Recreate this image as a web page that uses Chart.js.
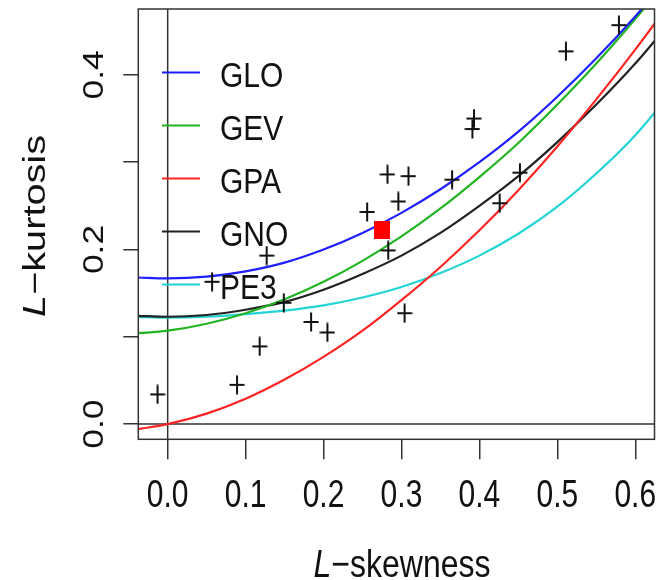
<!DOCTYPE html>
<html>
<head>
<meta charset="utf-8">
<script src="https://cdn.jsdelivr.net/npm/chart.js@4/dist/chart.umd.min.js"></script>
<style>
    html, body { margin: 0; padding: 0; background: #fff; }
    #wrap { width: 669px; height: 580px; }
</style>
</head>
<body>
<div id="wrap"><canvas id="ratioChart" width="669" height="580"></canvas></div>
<script>
// L-moment ratio diagram: theoretical curves + at-site points + regional average
const skewGrid = [-0.04, 0, 0.05, 0.1, 0.15, 0.2, 0.25, 0.3, 0.35, 0.4, 0.45, 0.5, 0.55, 0.6, 0.65];
const gloKurt = [0.168, 0.167, 0.169, 0.175, 0.185, 0.200, 0.219, 0.242, 0.269, 0.300, 0.335, 0.375, 0.419, 0.467, 0.519];
const gevKurt = [0.104, 0.107, 0.115, 0.127, 0.143, 0.163, 0.187, 0.215, 0.247, 0.283, 0.322, 0.366, 0.413, 0.464, 0.518];
const gpaKurt = [-0.006, 0.000, 0.012, 0.029, 0.051, 0.077, 0.107, 0.142, 0.180, 0.222, 0.268, 0.318, 0.372, 0.429, 0.489];
const gnoKurt = [0.124, 0.123, 0.125, 0.131, 0.140, 0.154, 0.172, 0.193, 0.219, 0.250, 0.284, 0.323, 0.366, 0.413, 0.466];
const pe3Kurt = [0.123, 0.122, 0.123, 0.126, 0.130, 0.136, 0.145, 0.157, 0.173, 0.193, 0.218, 0.249, 0.287, 0.331, 0.384];

const siteSkew = [-0.013, 0.089, 0.118, 0.149, 0.184, 0.205, 0.304, 0.057, 0.127, 0.256, 0.282, 0.309, 0.296, 0.283, 0.365, 0.391, 0.393, 0.452, 0.426, 0.511, 0.579];
const siteKurt = [0.034, 0.045, 0.089, 0.139, 0.117, 0.105, 0.127, 0.163, 0.193, 0.243, 0.286, 0.284, 0.255, 0.199, 0.280, 0.338, 0.350, 0.288, 0.253, 0.427, 0.457];

const regionalSkew = [0.275];
const regionalKurt = [0.222];

const curveNames = ["GLO", "GEV", "GPA", "GNO", "PE3"];
const curveColors = ["#1f1fff", "#22b422", "#ff2424", "#222222", "#22d4d4"];
const curveKurts = [gloKurt, gevKurt, gpaKurt, gnoKurt, pe3Kurt];

const xTickValues = [0, 0.1, 0.2, 0.3, 0.4, 0.5, 0.6];
const xTickLabels = ["0.0", "0.1", "0.2", "0.3", "0.4", "0.5", "0.6"];
const yTickValues = [0, 0.1, 0.2, 0.3, 0.4];
const yLabelValues = [0, 0.2, 0.4];
const yTickLabels = ["0.0", "0.2", "0.4"];

const FONT = "'Liberation Sans', Arial, sans-serif";
const INK = "#111111";
const AXIS = "#333333";

function pairs(xs, ys) {
    return xs.map((x, i) => ({ x, y: ys[i] }));
}

function crossImage() {
    const c = document.createElement("canvas");
    c.width = 16;
    c.height = 20;
    const ctx = c.getContext("2d");
    ctx.strokeStyle = "#111111";
    ctx.lineWidth = 2;
    ctx.beginPath();
    ctx.moveTo(0.5, 10);
    ctx.lineTo(15.5, 10);
    ctx.moveTo(8, 0.5);
    ctx.lineTo(8, 19.5);
    ctx.stroke();
    return c;
}

function squareImage() {
    const c = document.createElement("canvas");
    c.width = 16;
    c.height = 18;
    const ctx = c.getContext("2d");
    ctx.fillStyle = "#ff0000";
    ctx.fillRect(0, 0, 16, 18);
    return c;
}

// text stretched vertically, like the reference picture
function drawStretched(ctx, text, x, y, opts) {
    ctx.save();
    ctx.translate(x, y);
    if (opts.rotate) {
        ctx.rotate(-Math.PI / 2);
        ctx.scale(opts.stretch, 1);
    } else {
        ctx.scale(1, opts.stretch);
    }
    ctx.fillStyle = INK;
    ctx.textBaseline = "alphabetic";
    ctx.textAlign = opts.align || "center";
    ctx.font = opts.font;
    ctx.fillText(text, 0, 0);
    ctx.restore();
}

function drawTitle(ctx, cx, baseline, rest, size, stretch, rotate) {
    const italic = `italic ${size}px ${FONT}`;
    const normal = `${size}px ${FONT}`;
    ctx.save();
    ctx.translate(cx, baseline);
    if (rotate) {
        ctx.rotate(-Math.PI / 2);
        ctx.scale(stretch, 1);
    } else {
        ctx.scale(1, stretch);
    }
    ctx.font = italic;
    const wL = ctx.measureText("L").width;
    ctx.font = normal;
    const wRest = ctx.measureText(rest).width;
    const start = -(wL + wRest) / 2;
    ctx.fillStyle = INK;
    ctx.textAlign = "left";
    ctx.textBaseline = "alphabetic";
    ctx.font = italic;
    ctx.fillText("L", start, 0);
    ctx.font = normal;
    ctx.fillText(rest, start + wL, 0);
    ctx.restore();
}

const framePlugin = {
    id: "frame",
    beforeDatasetsDraw(chart) {
        const { ctx, chartArea: a, scales } = chart;
        const x0 = scales.x.getPixelForValue(0);
        const y0 = scales.y.getPixelForValue(0);
        ctx.save();
        ctx.strokeStyle = AXIS;
        ctx.lineWidth = 1.5;
        ctx.beginPath();
        ctx.moveTo(x0, a.top);
        ctx.lineTo(x0, a.bottom);
        ctx.moveTo(a.left, y0);
        ctx.lineTo(a.right, y0);
        ctx.stroke();
        ctx.restore();
    },
    afterDatasetsDraw(chart) {
        const { ctx, chartArea: a, scales } = chart;
        ctx.save();
        ctx.strokeStyle = AXIS;
        ctx.lineWidth = 1.5;
        ctx.strokeRect(a.left, a.top, a.right - a.left, a.bottom - a.top);
        ctx.restore();

        xTickValues.forEach((v, i) => {
            drawStretched(ctx, xTickLabels[i], scales.x.getPixelForValue(v), 507,
                { font: `30px ${FONT}`, stretch: 1.3 });
        });
        yLabelValues.forEach((v, i) => {
            drawStretched(ctx, yTickLabels[i], 103, scales.y.getPixelForValue(v),
                { font: `30px ${FONT}`, stretch: 1.18, rotate: true });
        });

        drawTitle(ctx, 402, 577, "\u2212skewness", 32, 1.22, false);
        drawTitle(ctx, 45, 226, "\u2212kurtosis", 31, 1.28, true);

        // legend, no box
        curveNames.forEach((name, i) => {
            const ly = 72.5 + i * 53;
            ctx.save();
            ctx.strokeStyle = curveColors[i];
            ctx.lineWidth = 2;
            ctx.beginPath();
            ctx.moveTo(162, ly);
            ctx.lineTo(200, ly);
            ctx.stroke();
            ctx.restore();
            drawStretched(ctx, name, 220, ly + 14, { font: `30px ${FONT}`, stretch: 1.17, align: "left" });
        });
    },
};

const curveSets = curveNames.map((name, i) => ({
    label: name,
    data: pairs(skewGrid, curveKurts[i]),
    showLine: true,
    borderColor: curveColors[i],
    backgroundColor: curveColors[i],
    borderWidth: 2.2,
    pointRadius: 0,
    cubicInterpolationMode: "monotone",
    order: 3,
}));

new Chart(document.getElementById("ratioChart"), {
    type: "scatter",
    data: {
        datasets: [
            ...curveSets,
            {
                label: "sites",
                data: pairs(siteSkew, siteKurt),
                pointStyle: crossImage(),
                pointRadius: 8,
                order: 2,
            },
            {
                label: "regional",
                data: pairs(regionalSkew, regionalKurt),
                pointStyle: squareImage(),
                pointRadius: 8,
                order: 1,
            },
        ],
    },
    options: {
        responsive: false,
        animation: false,
        devicePixelRatio: 1,
        layout: { padding: { top: 7, right: 14.5, left: 0, bottom: 0 } },
        plugins: {
            legend: { display: false },
            tooltip: { enabled: false },
        },
        scales: {
            x: {
                type: "linear",
                min: -0.0377,
                max: 0.6247,
                border: { display: false },
                grid: {
                    drawOnChartArea: false,
                    drawTicks: true,
                    tickLength: 20,
                    color: AXIS,
                    lineWidth: 1.5,
                },
                ticks: { display: false },
                afterBuildTicks: (s) => {
                    s.ticks = xTickValues.map((value) => ({ value }));
                },
                afterFit: (s) => {
                    s.height = 140.7;
                },
            },
            y: {
                type: "linear",
                min: -0.0174,
                max: 0.4755,
                border: { display: false },
                grid: {
                    drawOnChartArea: false,
                    drawTicks: true,
                    tickLength: 15,
                    color: AXIS,
                    lineWidth: 1.5,
                },
                ticks: { display: false },
                afterBuildTicks: (s) => {
                    s.ticks = yTickValues.map((value) => ({ value }));
                },
                afterFit: (s) => {
                    s.width = 138.3;
                },
            },
        },
    },
    plugins: [framePlugin],
});
</script>
</body>
</html>
